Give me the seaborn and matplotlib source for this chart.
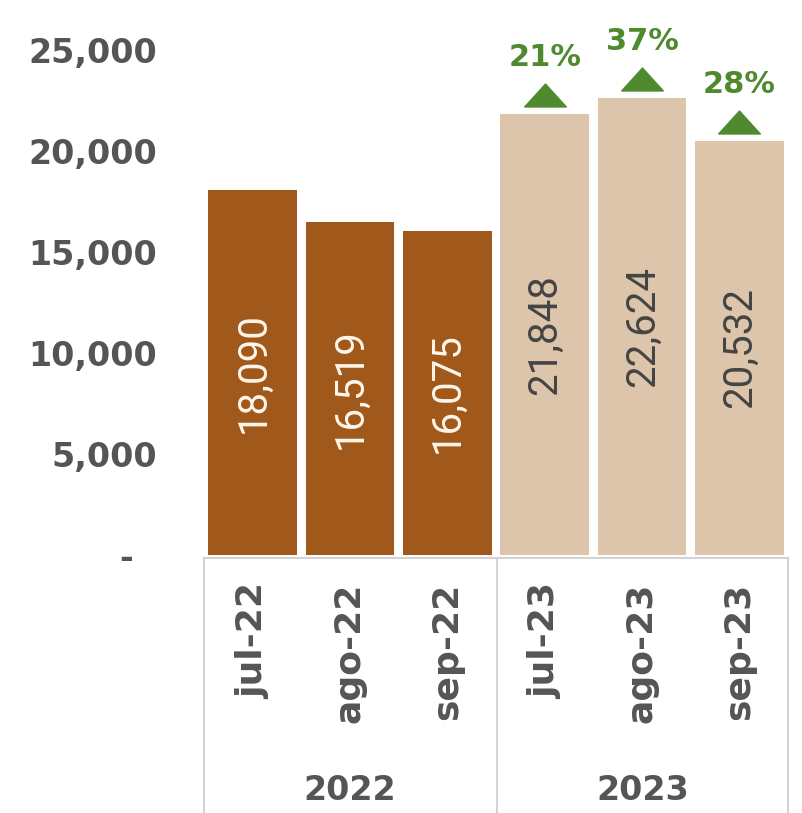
import matplotlib
matplotlib.use("Agg")
import matplotlib.pyplot as plt
import matplotlib.transforms as mtransforms
from matplotlib.lines import Line2D
from matplotlib.ticker import FuncFormatter
import seaborn as sns
import pandas as pd

months = ["jul-22", "ago-22", "sep-22", "jul-23", "ago-23", "sep-23"]
years = ["2022", "2022", "2022", "2023", "2023", "2023"]
values = [18090, 16519, 16075, 21848, 22624, 20532]
growth = [None, None, None, "21%", "37%", "28%"]
year_labels = ["2022", "2023"]

dark = "#A0591B"
light = "#DDC5AB"
green = "#4F8A2E"
gray = "#555555"

df = pd.DataFrame({"month": months, "year": years, "value": values})

sns.set_theme(style="white")
plt.rcParams["font.family"] = ["DejaVu Sans"]

fig = plt.figure(figsize=(8.02, 8.13), dpi=100)
W, H = 802, 813
ax = fig.add_axes([204 / W, (H - 555) / H, 584 / W, 555 / H])

sns.barplot(data=df, x="month", y="value", hue="year",
            palette={"2022": dark, "2023": light}, dodge=False,
            width=0.91, legend=False, ax=ax, saturation=1, linewidth=0)

ax.set_ylim(0, 27500)
ax.set_xlim(-0.5, 5.5)
ax.set_yticks([0, 5000, 10000, 15000, 20000, 25000])
ax.yaxis.set_major_formatter(FuncFormatter(lambda v, p: "-  " if v == 0 else f"{int(v):,}"))
ax.tick_params(axis="y", length=0, pad=34, labelsize=24, labelcolor=gray)
ax.tick_params(axis="x", length=0, pad=20, labelsize=26, labelcolor=gray)
for lbl in ax.get_yticklabels():
    lbl.set_fontweight("bold")
for lbl in ax.get_xticklabels():
    lbl.set_fontweight("bold")
    lbl.set_rotation(90)
    lbl.set_va("top")
ax.set_xlabel("")
ax.set_ylabel("")
for s in ax.spines.values():
    s.set_visible(False)

# values inside bars
for i, v in enumerate(values):
    col = "#FFF6EA" if years[i] == "2022" else "#444444"
    ax.text(i, v / 2, f"{v:,}", rotation=90, ha="center", va="center",
            fontsize=29, color=col, fontfamily="Roboto", fontweight="normal")

# growth markers
tri = [(-1, -0.55), (1, -0.55), (0, 0.55), (-1, -0.55)]
tri_trans = mtransforms.offset_copy(ax.transData, fig=fig, y=19 * 0.72, units="points")
txt_trans = mtransforms.offset_copy(ax.transData, fig=fig, y=42 * 0.72, units="points")
for i, g in enumerate(growth):
    if g is None:
        continue
    ax.plot([i], [values[i]], marker=tri, markersize=30, color=green,
            transform=tri_trans, clip_on=False, linestyle="none")
    ax.text(i, values[i], g, transform=txt_trans, ha="center", va="bottom",
            fontsize=22, fontweight="bold", color=green, clip_on=False)

# table lines below axes
lc = "#D3D3D3"
y_top = (H - 558) / H
fig.add_artist(Line2D([204 / W, 788 / W], [y_top, y_top], color=lc, lw=1.5))
for xp in [204, 497, 788]:
    fig.add_artist(Line2D([xp / W, xp / W], [0, y_top], color=lc, lw=1.5))

for j, yl in enumerate(year_labels):
    cx = [350, 643][j]
    fig.text(cx / W, (H - 790) / H, yl, ha="center", va="center",
             fontsize=24, fontweight="bold", color=gray)

fig.savefig("out.png", dpi=100)
